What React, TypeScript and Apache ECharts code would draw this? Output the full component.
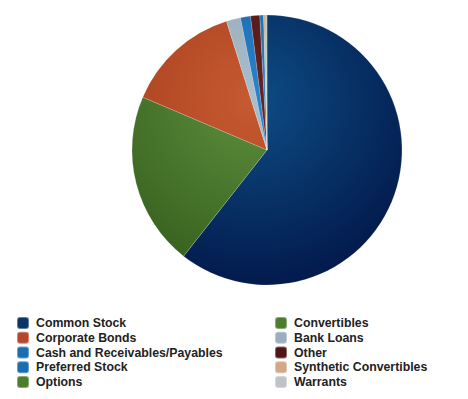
import React, { useEffect, useRef } from "react";
import * as echarts from "echarts";

const categories = [
  "Common Stock",
  "Convertibles",
  "Corporate Bonds",
  "Bank Loans",
  "Cash and Receivables/Payables",
  "Other",
  "Preferred Stock",
  "Synthetic Convertibles",
  "Options",
  "Warrants",
];
const values = [60.6, 20.8, 13.75, 1.7, 1.2, 1.1, 0.45, 0.25, 0.1, 0.05];

const legendColors = [
  "#0b3566", "#4d7d2f", "#b5482a", "#9aaebd", "#1a6db3",
  "#4e1614", "#1a6db3", "#d2a888", "#4d7d2f", "#bfc3c7",
];
const innerColors = [
  "#0d4d85", "#5d8f3e", "#c65a31", "#aabdcb", "#2a84cc",
  "#6a2420", "#2a84cc", "#e0b898", "#5d8f3e", "#cfd3d7",
];
const outerColors = [
  "#021648", "#335b1a", "#a03a1a", "#8ea2b2", "#135a9a",
  "#401010", "#135a9a", "#c89878", "#335b1a", "#b0b4b8",
];

const leftNames = categories.filter((_, i) => i % 2 === 0);
const rightNames = categories.filter((_, i) => i % 2 === 1);

export default function App() {
  const ref = useRef<HTMLDivElement>(null);
  useEffect(() => {
    if (!ref.current) return;
    const chart = echarts.init(ref.current, undefined, { renderer: "svg" });
    const cx = 267;
    const cy = 150;
    const data = categories.map((name, i) => ({
      name,
      value: values[i],
      itemStyle: {
        color: new echarts.graphic.RadialGradient(
          cx - 15,
          cy - 50,
          200,
          [
            { offset: 0, color: innerColors[i] },
            { offset: 1, color: outerColors[i] },
          ],
          true
        ),
      },
    }));
    const textStyle = {
      fontWeight: "bold" as const,
      fontSize: 12.3,
      lineHeight: 12,
      color: "#222222",
      fontFamily: "Liberation Sans, Arial, sans-serif",
      padding: [0, 0, 0, 2],
    };
    const legendBase = {
      orient: "vertical" as const,
      top: 316,
      padding: 0,
      itemWidth: 12,
      itemHeight: 12,
      itemGap: 0.75,
      icon: "roundRect",
      selectedMode: false,
      textStyle,
    };
    chart.setOption({
      animation: false,
      backgroundColor: "#ffffff",
      legend: [
        {
          ...legendBase,
          left: 16,
          data: leftNames.map((n) => ({
            name: n,
            itemStyle: { color: legendColors[categories.indexOf(n)] },
          })),
        },
        {
          ...legendBase,
          left: 274,
          data: rightNames.map((n) => ({
            name: n,
            itemStyle: { color: legendColors[categories.indexOf(n)] },
          })),
        },
      ],
      series: [
        {
          type: "pie",
          center: [cx, cy],
          radius: 135,
          startAngle: 90,
          clockwise: true,
          label: { show: false },
          labelLine: { show: false },
          emphasis: { disabled: true },
          minAngle: 0,
          itemStyle: { borderWidth: 0.5, borderColor: "rgba(255,255,255,0.35)" },
          data,
        },
      ],
    });
    return () => chart.dispose();
  }, []);
  return (
    <div
      ref={ref}
      style={{ position: "fixed", left: 0, top: 0, width: 468, height: 399 }}
    />
  );
}
